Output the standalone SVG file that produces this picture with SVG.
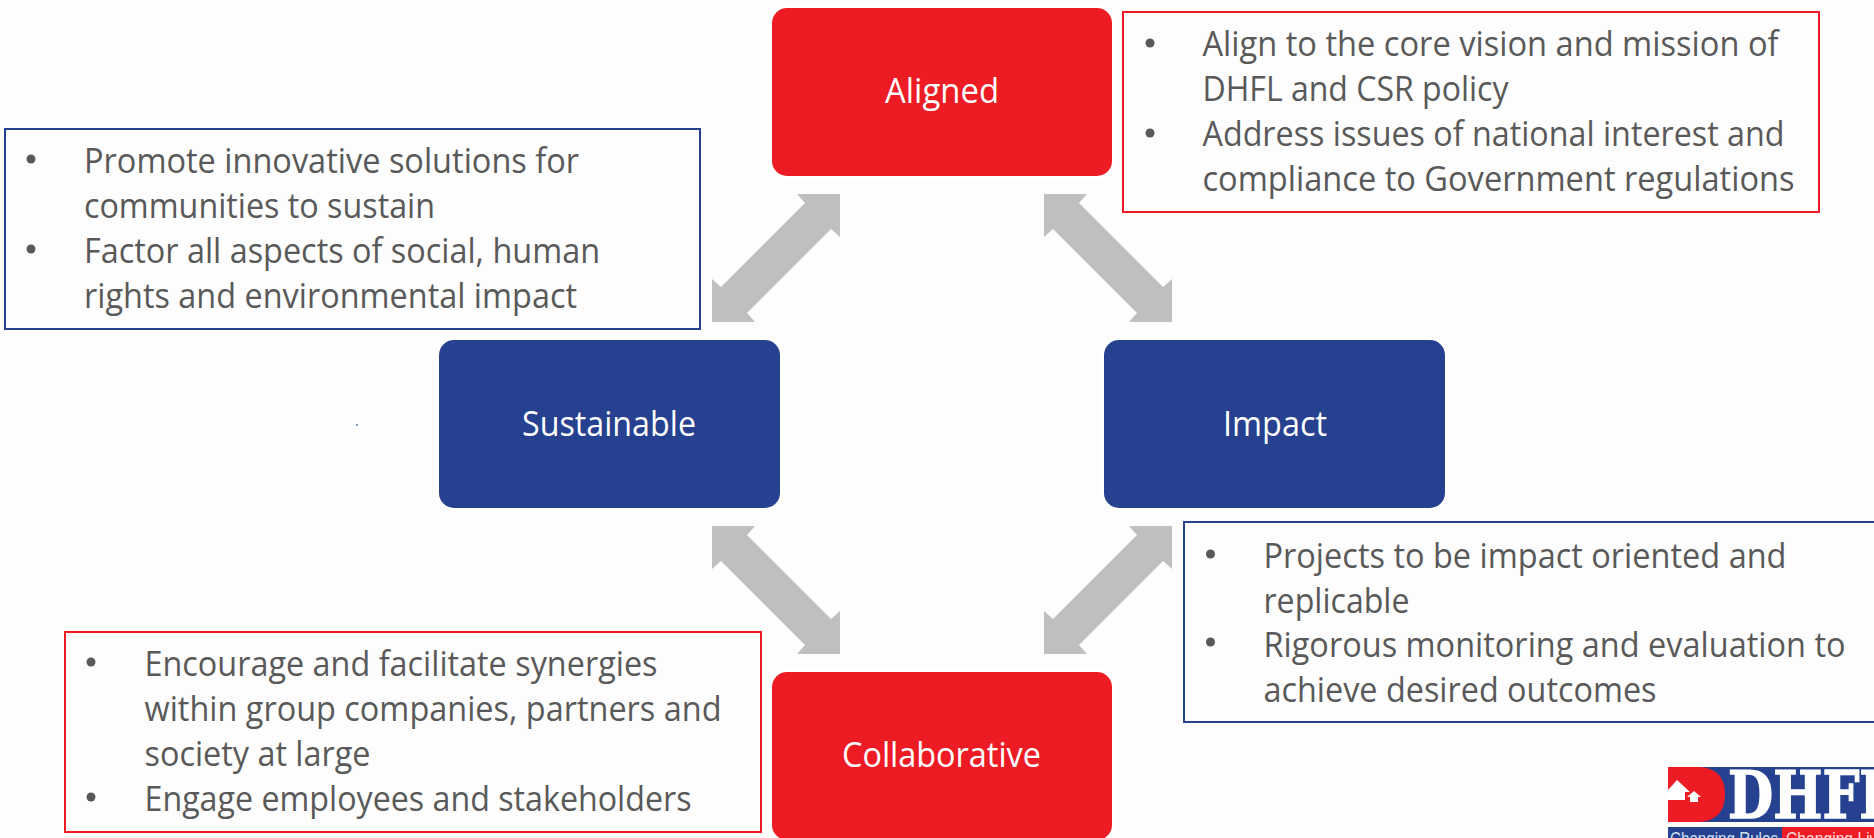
<svg xmlns="http://www.w3.org/2000/svg" width="1874" height="838" viewBox="0 0 1874 838">
<style>
.node{stroke:#fff;stroke-width:6;paint-order:stroke}
.red{fill:#ed1c24}.blue{fill:#26418f}
.lab{font-family:"Open Sans","Noto Sans","Liberation Sans",sans-serif;font-size:34px;fill:#fff}
.box{fill:none;stroke-width:2}
.bt{font-family:"Open Sans","Noto Sans","Liberation Sans",sans-serif;font-size:35px;fill:#595959}
.bul{fill:#595959}
.arrow{fill:#bfbfbf}
.tag{font-family:"Liberation Sans",sans-serif;font-size:19px}
</style>
<rect width="1874" height="838" fill="#fdfdfd"/>
<g id="connectors">
<polygon class="arrow" points="840,194 797,194 805,203 721,287 712,279 712,322 755,322 747,313 831,229 840,237"/>
<polygon class="arrow" points="1044,194 1087,194 1079,203 1163,287 1172,279 1172,322 1129,322 1137,313 1053,229 1044,237"/>
<polygon class="arrow" points="712,526 755,526 747,535 831,619 840,611 840,654 797,654 805,645 721,561 712,569"/>
<polygon class="arrow" points="1172,526 1129,526 1137,535 1053,619 1044,611 1044,654 1087,654 1079,645 1163,561 1172,569"/>
</g>
<g id="node-aligned">
<rect class="node red" x="772" y="8" width="340" height="168" rx="15"/>
<text class="lab" x="885" y="103" textLength="114" lengthAdjust="spacingAndGlyphs">Aligned</text>
</g>
<g id="node-sustainable">
<rect class="node blue" x="439" y="340" width="341" height="168" rx="15"/>
<text class="lab" x="522" y="436" textLength="174" lengthAdjust="spacingAndGlyphs">Sustainable</text>
</g>
<g id="node-impact">
<rect class="node blue" x="1104" y="340" width="341" height="168" rx="15"/>
<text class="lab" x="1223" y="436" textLength="104" lengthAdjust="spacingAndGlyphs">Impact</text>
</g>
<g id="node-collaborative">
<rect class="node red" x="772" y="672" width="340" height="168" rx="15"/>
<text class="lab" x="842" y="767" textLength="199" lengthAdjust="spacingAndGlyphs">Collaborative</text>
</g>
<g id="note-aligned">
<rect class="box" x="1123" y="12" width="696" height="200" stroke="#ed1c24"/>
<circle class="bul" cx="1150" cy="43" r="4.5"/><circle class="bul" cx="1150" cy="133" r="4.5"/>
<text class="bt" x="1202.5" y="56" textLength="576" lengthAdjust="spacingAndGlyphs">Align to the core vision and mission of</text>
<text class="bt" x="1202.5" y="101" textLength="306" lengthAdjust="spacingAndGlyphs">DHFL and CSR policy</text>
<text class="bt" x="1202.5" y="146" textLength="582" lengthAdjust="spacingAndGlyphs">Address issues of national interest and</text>
<text class="bt" x="1202.5" y="191" textLength="592" lengthAdjust="spacingAndGlyphs">compliance to Government regulations</text>
</g>
<g id="note-sustainable">
<rect class="box" x="5" y="129" width="695" height="200" stroke="#26418f"/>
<circle class="bul" cx="31" cy="159" r="4.5"/><circle class="bul" cx="31" cy="249" r="4.5"/>
<text class="bt" x="84" y="173" textLength="495" lengthAdjust="spacingAndGlyphs">Promote innovative solutions for</text>
<text class="bt" x="84" y="218" textLength="351" lengthAdjust="spacingAndGlyphs">communities to sustain</text>
<text class="bt" x="84" y="263" textLength="516" lengthAdjust="spacingAndGlyphs">Factor all aspects of social, human</text>
<text class="bt" x="84" y="308" textLength="493" lengthAdjust="spacingAndGlyphs">rights and environmental impact</text>
</g>
<g id="note-impact">
<rect class="box" x="1184" y="522" width="700" height="200" stroke="#26418f"/>
<circle class="bul" cx="1210.5" cy="554" r="4.5"/><circle class="bul" cx="1210.5" cy="642" r="4.5"/>
<text class="bt" x="1263.5" y="568" textLength="523" lengthAdjust="spacingAndGlyphs">Projects to be impact oriented and</text>
<text class="bt" x="1263.5" y="613" textLength="146" lengthAdjust="spacingAndGlyphs">replicable</text>
<text class="bt" x="1263.5" y="657" textLength="582" lengthAdjust="spacingAndGlyphs">Rigorous monitoring and evaluation to</text>
<text class="bt" x="1263.5" y="702" textLength="393" lengthAdjust="spacingAndGlyphs">achieve desired outcomes</text>
</g>
<g id="note-collaborative">
<rect class="box" x="65" y="632" width="696" height="200" stroke="#ed1c24"/>
<circle class="bul" cx="91" cy="662" r="4.5"/><circle class="bul" cx="91" cy="797" r="4.5"/>
<text class="bt" x="144.5" y="676" textLength="513" lengthAdjust="spacingAndGlyphs">Encourage and facilitate synergies</text>
<text class="bt" x="144.5" y="721" textLength="577" lengthAdjust="spacingAndGlyphs">within group companies, partners and</text>
<text class="bt" x="144.5" y="766" textLength="226" lengthAdjust="spacingAndGlyphs">society at large</text>
<text class="bt" x="144.5" y="811" textLength="547" lengthAdjust="spacingAndGlyphs">Engage employees and stakeholders</text>
</g>
<rect x="356" y="424" width="2" height="2" fill="#7fa3c7"/>
<g id="logo">
<rect x="1668" y="767" width="206" height="55" fill="#26418f"/>
<path d="M1668 767H1700Q1725 769 1725 794Q1725 820 1700 822H1668Z" fill="#ed1c24"/>
<path d="M1668 790L1677 780L1690 792H1685V800H1668Z" fill="#fff"/>
<path d="M1687 797L1694 791L1701 797H1698V802H1690V797Z" fill="#fff"/>
<text x="1728" y="818" font-family="'DejaVu Serif','Liberation Serif',serif" font-weight="700" font-size="66" fill="#fff" stroke="#fff" stroke-width="1.5" textLength="168" lengthAdjust="spacingAndGlyphs">DHFL</text>
<rect x="1668" y="827" width="114" height="11" fill="#26418f"/>
<rect x="1782" y="827" width="92" height="11" fill="#ed1c24"/>
<text class="tag" x="1670" y="845" fill="#cfe0f5" textLength="108" lengthAdjust="spacingAndGlyphs">Changing Rules</text>
<text class="tag" x="1786" y="845" fill="#ffd9d9" textLength="108" lengthAdjust="spacingAndGlyphs">Changing Lives</text>
</g>
</svg>
